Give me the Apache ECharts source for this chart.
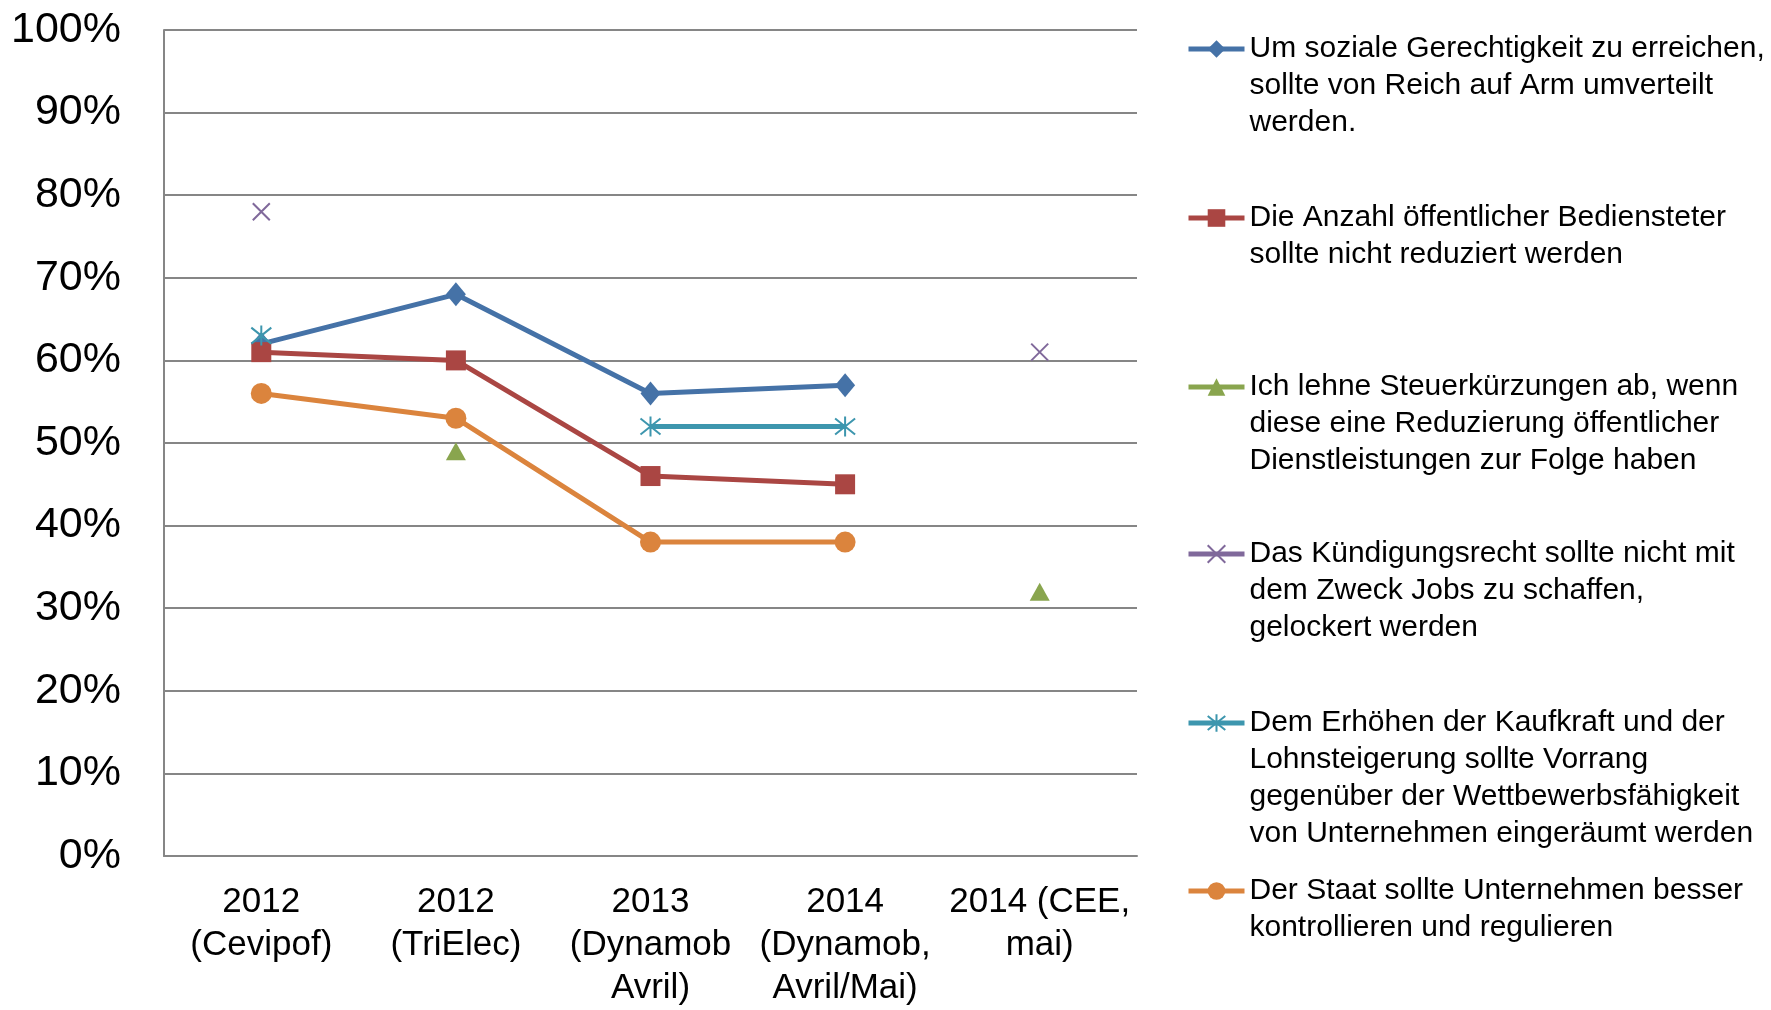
<!DOCTYPE html>
<html>
<head>
<meta charset="utf-8">
<script src="https://cdn.jsdelivr.net/npm/echarts@6/dist/echarts.min.js"></script>
<style>
  html, body { margin: 0; padding: 0; background: #fff; }
  #chart { width: 1771px; height: 1010px; }
</style>
</head>
<body>
<div id="chart"></div>
<script>
// categories (x axis)
const categories = [
  '2012\n(Cevipof)',
  '2012\n(TriElec)',
  '2013\n(Dynamob\nAvril)',
  '2014\n(Dynamob,\nAvril/Mai)',
  '2014 (CEE,\nmai)'
]

// answers in percent, null = no survey
const umverteilen = [62, 68, 56, 57, null]
const bedienstete = [61, 60, 46, 45, null]
const steuerkuerzungen = [null, 49, null, null, 32]
const kuendigungsrecht = [78, null, null, null, 61]
const kaufkraft = [63, null, 52, 52, null]
const kontrollieren = [56, 53, 38, 38, null]

const seriesNames = [
  'Um soziale Gerechtigkeit zu erreichen,\nsollte von Reich auf Arm umverteilt\nwerden.',
  'Die Anzahl öffentlicher Bediensteter\nsollte nicht reduziert werden',
  'Ich lehne Steuerkürzungen ab, wenn\ndiese eine Reduzierung öffentlicher\nDienstleistungen zur Folge haben',
  'Das Kündigungsrecht sollte nicht mit\ndem Zweck Jobs zu schaffen,\ngelockert werden',
  'Dem Erhöhen der Kaufkraft und der\nLohnsteigerung sollte Vorrang\ngegenüber der Wettbewerbsfähigkeit\nvon Unternehmen eingeräumt werden',
  'Der Staat sollte Unternehmen besser\nkontrollieren und regulieren'
]

const colors = ['#4572A7', '#AA4643', '#89A54E', '#80699B', '#3D96AE', '#DB843D']
const FONT = 'Liberation Sans'
const LH = 37

const chart = echarts.init(document.getElementById('chart'))

// y of the first text line of each legend entry (excel gives equal slots)
const legendFirstLine = [49, 218, 387, 554, 723, 891]
const legends = seriesNames.map((name, i) => {
  const lines = name.split('\n').length
  // blank lines in front so the icon (centred on the block) sits on line one
  const blank = lines - 1
  return {
    data: [name],
    orient: 'vertical',
    left: 1186,
    top: legendFirstLine[i] - (2 * lines - 1) * LH / 2,
    padding: 0,
    itemWidth: 56,
    itemHeight: 22,
    selectedMode: false,
    lineStyle: { width: 5 },
    formatter: n => '\n'.repeat(blank) + n,
    textStyle: {
      fontFamily: FONT,
      fontSize: 30,
      lineHeight: LH,
      color: '#000'
    }
  }
})

function lineSeries(name, data, color, symbol, size, stroke) {
  return {
    name: name,
    type: 'line',
    data: data,
    symbol: symbol,
    symbolSize: size,
    connectNulls: false,
    lineStyle: { width: 5, color: color },
    itemStyle: {
      color: color,
      borderColor: color,
      borderWidth: stroke ? 2 : 0
    },
    emphasis: { disabled: true }
  }
}

chart.setOption({
  animation: false,
  color: colors,
  grid: {
    left: 164,
    right: 634,
    top: 30,
    bottom: 151,
    containLabel: false
  },
  legend: legends,
  xAxis: {
    type: 'category',
    data: categories,
    boundaryGap: true,
    axisLine: { show: true, lineStyle: { color: '#868686', width: 2 } },
    axisTick: { show: false },
    axisLabel: {
      interval: 0,
      margin: 25,
      fontFamily: FONT,
      fontSize: 35,
      lineHeight: 43,
      color: '#000'
    }
  },
  yAxis: {
    type: 'value',
    min: 0,
    max: 100,
    interval: 10,
    axisLine: { show: true, lineStyle: { color: '#868686', width: 2 } },
    axisTick: { show: false },
    splitLine: { lineStyle: { color: '#868686', width: 2 } },
    axisLabel: {
      formatter: '{value}%',
      margin: 43,
      fontFamily: FONT,
      fontSize: 43,
      color: '#000'
    }
  },
  series: [
    lineSeries(seriesNames[0], umverteilen, colors[0], 'diamond', [20, 24], false),
    lineSeries(seriesNames[1], bedienstete, colors[1], 'rect', 20, false),
    lineSeries(seriesNames[2], steuerkuerzungen, colors[2], 'triangle', [20, 18], false),
    lineSeries(seriesNames[3], kuendigungsrecht, colors[3], 'path://M0,0L10,10M10,0L0,10', 17, true),
    lineSeries(seriesNames[4], kaufkraft, colors[4], 'path://M5,0L5,10M0,1L10,9M10,1L0,9', 20, true),
    lineSeries(seriesNames[5], kontrollieren, colors[5], 'circle', 21, false)
  ]
})
</script>
</body>
</html>
